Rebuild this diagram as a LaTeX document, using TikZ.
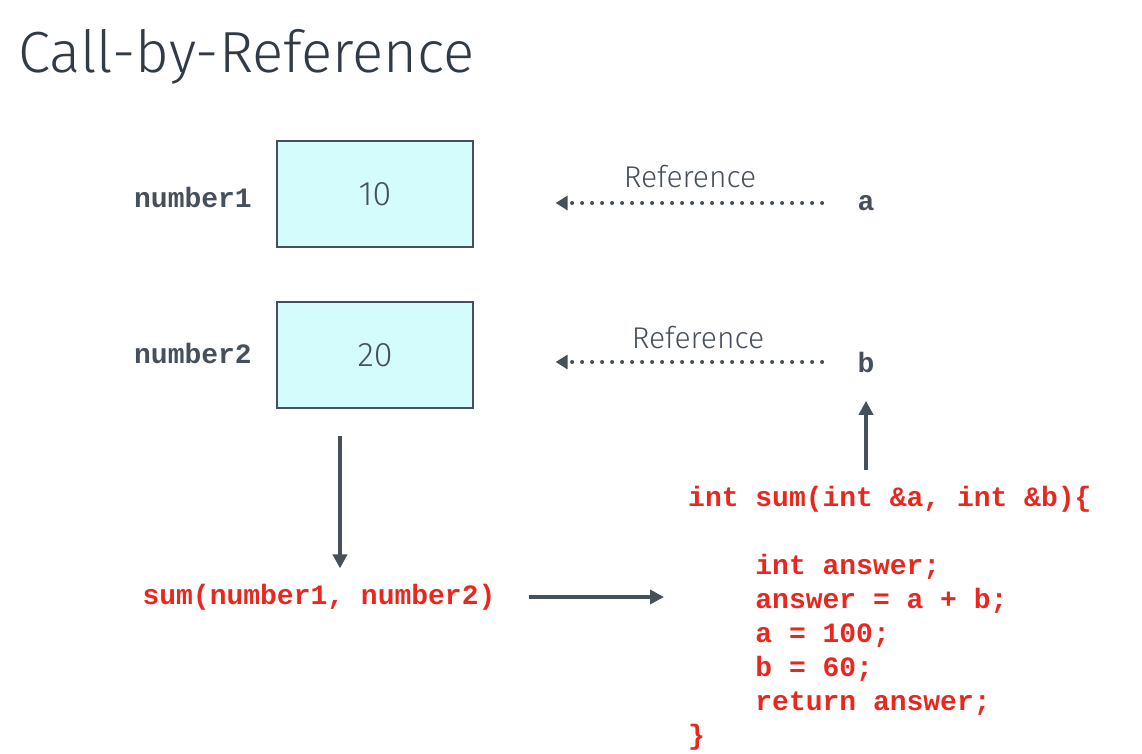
\documentclass[tikz,border=0pt]{standalone}
\usepackage{fontspec}
\setmainfont{Fira Sans}[UprightFont=* Light]
\setmonofont{Liberation Mono}
\usetikzlibrary{arrows.meta}

\definecolor{slate}{HTML}{46505B}
\definecolor{titlegray}{HTML}{313B46}
\definecolor{codered}{HTML}{E8281E}
\definecolor{boxcyan}{HTML}{D4FCFC}

\begin{document}
\begin{tikzpicture}[x=1pt, y=-1pt,
		varbox/.style={draw=slate, line width=1.2pt, fill=boxcyan, minimum width=196pt, minimum height=106pt,
			font=\fontsize{34}{40}\selectfont, text=slate},
		varname/.style={font=\ttfamily\bfseries\fontsize{28}{34}\selectfont, text=slate},
		reflabel/.style={font=\fontsize{30}{36}\selectfont, text=slate},
		codetext/.style={font=\ttfamily\bfseries\fontsize{28}{34}\selectfont, text=codered},
		refarrow/.style={-{Triangle[width=14pt,length=12pt]}, slate, line width=4pt, line cap=round,
			dash pattern=on 0pt off 10pt},
		flowarrow/.style={-{Triangle[width=14pt,length=14pt]}, slate, line width=3.5pt}]
	\useasboundingbox (0,0) rectangle (1142,754);

	\node[anchor=base west, inner sep=0, text=titlegray, font=\fontsize{58}{66}\selectfont] (title) at (18,73) {Call-by-Reference};

	\node[varbox] (box1) at (375,194) {10};
	\node[varbox] (box2) at (375,355) {20};
	\node[varname] (n1) at (193,197) {number1};
	\node[varname] (n2) at (193,353) {number2};

	\node[varname] (a) at (866,203) {a};
	\node[varname] (b) at (866,362) {b};
	\node[reflabel] (ref1) at (690,177) {Reference};
	\node[reflabel] (ref2) at (698,338) {Reference};

	\node[codetext] (call) at (319,597) {sum(number1, number2)};
	\node[codetext, anchor=north west, inner sep=0, align=left] (code) at (688,486)
		{int sum(int \&a, int \&b)\{\\[34pt]
		\hspace*{2.4em}int answer;\\
		\hspace*{2.4em}answer = a + b;\\
		\hspace*{2.4em}a = 100;\\
		\hspace*{2.4em}b = 60;\\
		\hspace*{2.4em}return answer;\\
		\}};

	% references
	\draw[refarrow, shorten <=32pt, shorten >=82pt] (a.west) -- (box1.east |- a.west);
	\draw[refarrow, shorten <=32pt, shorten >=82pt] (b.west) -- (box2.east |- b.west);

	% call flow
	\draw[flowarrow, shorten <=27pt, shorten >=12pt] ([xshift=-35pt]box2.south) -- ([xshift=-35pt]box2.south |- call.north);
	\draw[flowarrow, shorten <=30pt, shorten >=24pt] (call.east) -- (call.east -| code.west);
	\draw[flowarrow, shorten <=16pt, shorten >=25pt] (code.north -| b) -- (b.south);
\end{tikzpicture}
\end{document}
